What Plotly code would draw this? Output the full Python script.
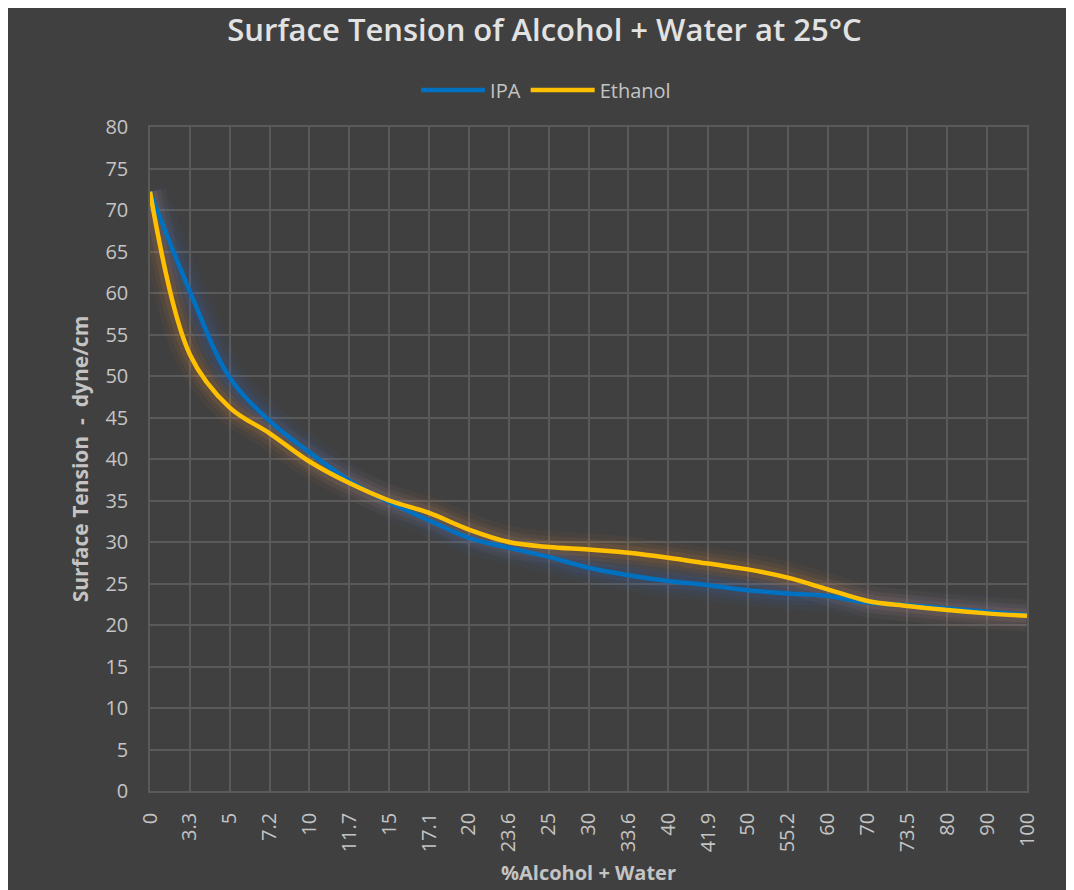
import plotly.graph_objects as go

categories = ["0", "3.3", "5", "7.2", "10", "11.7", "15", "17.1", "20", "23.6", "25", "30",
              "33.6", "40", "41.9", "50", "55.2", "60", "70", "73.5", "80", "90", "100"]
ipa = [72.2, 60.2, 49.8, 44.6, 40.8, 37.4, 34.8, 32.6, 30.5, 29.3, 28.2, 26.9,
       26.0, 25.3, 24.8, 24.2, 23.8, 23.5, 22.7, 22.4, 22.0, 21.6, 21.2]
ethanol = [72.2, 52.6, 46.2, 43.1, 39.7, 37.1, 35.0, 33.5, 31.5, 30.0, 29.4, 29.1,
           28.7, 28.1, 27.4, 26.7, 25.7, 24.3, 22.9, 22.3, 21.8, 21.4, 21.1]
y_ticks = list(range(0, 81, 5))

BG = "#404040"
GRID = "#5a5a5a"
TXT = "#d6d6d6"
TICK = "#c4c4c4"
BLUE = "#0070c0"
YELLOW = "#ffc000"

fig = go.Figure()

# soft glow layers
for w, a in [(32, 0.05), (22, 0.07), (14, 0.10)]:
    fig.add_trace(go.Scatter(x=categories, y=ipa, mode="lines",
                             line=dict(color=f"rgba(60,110,210,{a})", width=w, shape="spline"),
                             hoverinfo="skip", showlegend=False))
    fig.add_trace(go.Scatter(x=categories, y=ethanol, mode="lines",
                             line=dict(color=f"rgba(235,140,50,{a})", width=w, shape="spline"),
                             hoverinfo="skip", showlegend=False))

fig.add_trace(go.Scatter(x=categories, y=ipa, mode="lines", name="IPA",
                         line=dict(color=BLUE, width=4.5, shape="spline", smoothing=1.0)))
fig.add_trace(go.Scatter(x=categories, y=ethanol, mode="lines", name="Ethanol",
                         line=dict(color=YELLOW, width=4.5, shape="spline", smoothing=1.0)))

fig.update_layout(
    width=1074, height=890,
    paper_bgcolor=BG, plot_bgcolor=BG,
    font=dict(family="Open Sans", color=TXT),
    margin=dict(l=142, r=55, t=119, b=107, autoexpand=False),
    title=dict(text="Surface Tension of Alcohol + Water at 25°C",
               font=dict(size=31, color="#e2e2e2", family="Open Sans", weight=600),
               x=0.4995, xref="container", xanchor="center",
               y=0.975, yref="container", yanchor="middle"),
    legend=dict(orientation="h", x=0.501, xref="container", xanchor="center",
                y=0.908, yref="container", yanchor="middle",
                font=dict(size=20, color=TICK), bgcolor="rgba(0,0,0,0)", itemwidth=64),
    showlegend=True,
)
fig.update_xaxes(
    type="category", range=[0, len(categories) - 1],
    showgrid=True, gridcolor=GRID, gridwidth=1.5,
    showline=True, linecolor=GRID, linewidth=1.5, mirror=True,
    tickangle=-90, tickfont=dict(size=20, color=TICK), ticks="", ticklabelstandoff=12,
    title=dict(text="<b>%Alcohol + Water</b>", font=dict(size=20, color=TICK), standoff=15),
    zeroline=False,
)
fig.update_yaxes(
    range=[0, 80], tickvals=y_ticks,
    showgrid=True, gridcolor=GRID, gridwidth=1.5,
    showline=True, linecolor=GRID, linewidth=1.5, mirror=True,
    tickfont=dict(size=20, color=TICK), ticks="", ticklabelstandoff=16,
    title=dict(text="<b>Surface Tension\u00a0 -\u00a0 dyne/cm</b>", font=dict(size=21, color=TICK), standoff=11),
    zeroline=False,
)

fig.write_html("out.html")
